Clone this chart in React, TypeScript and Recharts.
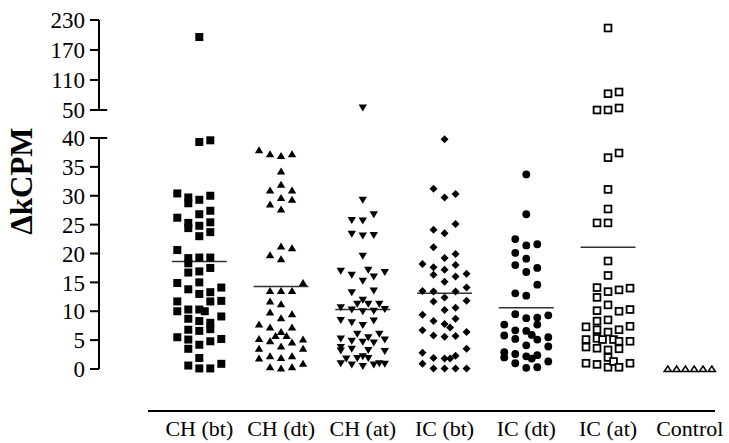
import { ScatterChart, Scatter, XAxis, YAxis, ReferenceLine } from "recharts";

const GROUPS = ["CH (bt)", "CH (dt)", "CH (at)", "IC (bt)", "IC (dt)", "IC (at)", "Control"];

// ΔkCPM per sample. *_LANE = which slot of the dot column the point sits in.
const CH_BT = [
  196,
  39.3, 39.6,
  30.4, 29.7, 28.7, 29.3, 30.0,
  26.2, 25.3, 24.4, 26.8, 24.8, 23.0, 27.4, 25.4, 23.7,
  20.6, 19.2, 18.3, 19.3, 19.3,
  16.7, 16.9, 17.5,
  14.9, 13.8, 15.0, 13.0, 13.3, 14.1,
  11.7, 10.0, 10.3, 8.7, 10.3, 10.0, 8.3, 11.7, 8.0, 6.9, 11.8, 9.1,
  5.5, 6.8, 5.1, 3.5, 6.6, 4.2, 4.8, 5.2,
  1.9, 0.6, 0.1, 0.1, 0.9,
];
const CH_BT_LANE = [
  0,
  0, 1,
  -2, -1, -1, 0, 1,
  -2, -1, -1, 0, 0, 0, 1, 1, 1,
  -2, -1, -1, 0, 1,
  -1, 0, 1,
  -2, -1, 0, 0, 1, 2,
  -2, -2, -1, -1, 0, 0.5, 0, 1, 1, 1, 2, 2,
  -2, -1, -1, -1, 0, 0, 1, 2,
  0, -1, 0, 1, 2,
];

const CH_DT = [
  37.9, 37.2, 36.9, 37.2,
  34.2,
  30.9, 31.9, 30.9,
  28.5, 29.6, 29.3, 27.6,
  21.2, 20.9, 19.7, 19.0,
  14.9, 13.5, 13.5, 13.5,
  11.7, 11.2,
  9.8, 8.8, 9.5,
  7.7, 7.2, 7.2, 6.4,
  5.2, 4.8, 5.7, 5.7, 4.6, 5.1,
  3.9, 3.5, 3.5,
  1.8, 2.2, 1.9, 2.2, 0.9,
  0.3, 0.1, 0.3,
];
const CH_DT_LANE = [
  -2, -1, 0, 1,
  0,
  -1, 0, 1,
  -1, 0, 1, 0,
  0, 1, -1, 0,
  2, -1, 0, 1,
  -1, 0,
  -1, 0, 1,
  -2, -1, 1, 0,
  -2, -1, -0.5, 0.5, 1, 2,
  0, -2, 2,
  -2, -1, 0, 1, 2,
  -1, 0, 1,
];

const CH_AT = [
  55,
  29.3, 26.8, 25.8, 25.7, 23.4, 23.1, 23.2,
  19.6,
  17.0, 16.3, 17.2, 15.3, 16.0, 16.8,
  13.3, 13.6,
  12.0, 11.3, 11.3, 10.7, 10.3, 10.0, 10.1, 11.3, 10.4,
  8.5, 8.1, 7.6, 8.4,
  6.1, 5.5, 6.1, 5.3, 4.9, 4.7, 4.6, 5.1,
  3.8, 3.2, 3.5, 3.3, 3.1,
  2.2, 1.8, 1.9, 1.9,
  1.0, 0.8, 0.5, 0.8, 1.0, 0.9,
];
const CH_AT_LANE = [
  0,
  0, 1, -1, 0, -1, 0, 1,
  0,
  -2, -1, 0.5, 0, 1, 2,
  -1, 1,
  0, -0.5, 0.5, -2, -1, 0, 1, 1.5, 2,
  -2, -1, 0, 1,
  -0.5, 0.5, 1.5, -2, -1, 0, 1, 2,
  -2, -2, -1, 0.5, 2,
  0, -1.5, -0.5, 0.5,
  -2, -1, 0, 1, 1.5, 2,
];

const IC_BT = [
  39.8,
  31.2, 29.7, 30.3,
  24.1, 23.5, 25.1,
  21.1, 19.2, 19.9,
  18.2, 17.6, 16.3, 17.2, 18.0, 16.0, 16.5,
  15.1, 13.5, 13.4, 13.4, 14.1,
  11.7, 12.4, 11.8,
  10.2, 10.6,
  9.4, 8.3, 7.8, 7.2, 8.7,
  6.7, 5.8, 5.6, 5.7, 6.4,
  3.5, 2.8, 1.9, 1.8, 1.8, 2.3,
  0.9, 0.1, 0.1, 0.1, 0.1,
];
const IC_BT_LANE = [
  0,
  -1, 0, 1,
  -1, 0, 1,
  -1, 0, 1,
  -2, -1, -1, 0, 1, 1, 2,
  0, -2, -1, 1, 2,
  -1, 0, 2,
  0, 1,
  -2, -1, 0, 0.5, 1,
  -2, -1, 0, 1, 2,
  2, -2, -1, 0, 0.5, 1,
  -2, -1, 0, 1, 2,
];

const IC_DT = [
  33.7, 26.8,
  22.5, 21.4, 21.6,
  20.1, 19.1, 18.0, 16.8, 17.5,
  14.6, 13.1, 12.7,
  9.5, 8.8, 8.9, 9.3,
  7.7, 7.7, 6.7, 6.6, 5.9, 5.8, 5.2, 5.1, 5.5,
  4.1, 3.9,
  2.9, 2.0, 2.6, 1.0, 2.2, 1.8, 2.4, 1.3,
  0.2, 0.3,
];
const IC_DT_LANE = [
  0, 0,
  -1, 0, 1,
  -1, 0, -1, 0, 1,
  1, -1, 0,
  -1, 0, 1, 2,
  1, -2, -1, 0, 0.5, -2, -1, 1, 2,
  0, 2,
  -2, -2, -1, -1, 0, 0.5, 1, 2,
  0, 1,
];

const IC_AT = [
  214, 86, 82.6, 50, 50, 54,
  37.4, 36.6,
  31.1, 27.7, 25.3, 25.3,
  18.7, 16.2,
  14.1, 12.4, 13.4, 13.7, 14.0,
  10.1, 11.1, 10.0, 10.3,
  7.3, 8.3, 6.8, 8.5, 6.4, 6.8, 7.4,
  5.1, 3.8, 5.3, 3.6, 5.1, 5.1, 3.3, 3.5, 4.8, 4.8,
  1.0, 0.8, 2.0, 0.3, 1.3, 0.3, 1.0,
];
const IC_AT_LANE = [
  0, 1, 0, -1, 0, 1,
  1, 0,
  0, 0, -1, 0,
  0, 0,
  -1, -1, 0, 1, 2,
  -1, 0, 1, 2,
  -2, -1, -1, 0, 0, 1, 2,
  -2, -2, -1, -1, -0.5, 0.5, 0, 1, 1, 2,
  -2, -1, 0, 0, 0.5, 1, 2,
];

const CONTROL = [0, 0, 0, 0, 0, 0];
const CONTROL_LANE = [-2, -1.2, -0.4, 0.4, 1.2, 2];

// group means (horizontal bars)
const MEANS = [18.6, 14.3, 10.3, 13.1, 10.6, 21.1, null];

const LOW_TICKS = [0, 5, 10, 15, 20, 25, 30, 35, 40];
const HIGH_TICKS = [50, 110, 170, 230];
const BREAK = 45;

const LANE = 0.1346;
const MEAN_HALF = 0.336;
const X_DOMAIN: [number, number] = [-1.227, 6.48];
const FONT = '"Liberation Serif", "Times New Roman", serif';

type Kind = "square" | "up" | "down" | "diamond" | "circle" | "open" | "openUp";

const SERIES: { values: number[]; lanes: number[]; kind: Kind }[] = [
  { values: CH_BT, lanes: CH_BT_LANE, kind: "square" },
  { values: CH_DT, lanes: CH_DT_LANE, kind: "up" },
  { values: CH_AT, lanes: CH_AT_LANE, kind: "down" },
  { values: IC_BT, lanes: IC_BT_LANE, kind: "diamond" },
  { values: IC_DT, lanes: IC_DT_LANE, kind: "circle" },
  { values: IC_AT, lanes: IC_AT_LANE, kind: "open" },
  { values: CONTROL, lanes: CONTROL_LANE, kind: "openUp" },
];

function points(g: number, values: number[], lanes: number[], high: boolean) {
  return values
    .map((v, k) => ({ x: g + lanes[k] * LANE, y: v }))
    .filter((p) => (high ? p.y > BREAK : p.y <= BREAK));
}

function Marker({ cx, cy, kind }: { cx: number; cy: number; kind: Kind }) {
  switch (kind) {
    case "square":
      return <rect x={cx - 4} y={cy - 4} width={8} height={8} fill="#000" />;
    case "up":
      return <polygon points={`${cx},${cy - 4} ${cx + 4.2},${cy + 3} ${cx - 4.2},${cy + 3}`} fill="#000" />;
    case "down":
      return <polygon points={`${cx - 4.2},${cy - 3} ${cx + 4.2},${cy - 3} ${cx},${cy + 4}`} fill="#000" />;
    case "diamond":
      return <polygon points={`${cx},${cy - 4} ${cx + 4},${cy} ${cx},${cy + 4} ${cx - 4},${cy}`} fill="#000" />;
    case "circle":
      return <circle cx={cx} cy={cy} r={3.9} fill="#000" />;
    case "open":
      return <rect x={cx - 3.4} y={cy - 3.4} width={6.8} height={6.8} fill="#fff" stroke="#000" strokeWidth={1.8} />;
    default:
      return (
        <polygon
          points={`${cx},${cy - 3} ${cx + 3.6},${cy + 2.5} ${cx - 3.6},${cy + 2.5}`}
          fill="#fff"
          stroke="#000"
          strokeWidth={1.5}
        />
      );
  }
}

const tickStyle = { fill: "#000", fontSize: 23, fontFamily: FONT };
const catTickStyle = { fill: "#000", fontSize: 22, fontFamily: FONT };
const axisStroke = { stroke: "#000", strokeWidth: 2 };

function Panel({ high }: { high: boolean }) {
  const domain: [number, number] = high ? [50, 230] : [0, 40];
  const cap = high ? 50 : 40;
  return (
    <ScatterChart
      width={729}
      height={high ? 130 : 392}
      margin={high ? { top: 20, right: 0, bottom: 20, left: 0 } : { top: 138, right: 0, bottom: 23, left: 0 }}
    >
      <XAxis type="number" dataKey="x" domain={X_DOMAIN} hide />
      <YAxis
        type="number"
        dataKey="y"
        width={99}
        domain={domain}
        ticks={high ? HIGH_TICKS : LOW_TICKS}
        interval={0}
        tick={tickStyle}
        tickSize={9}
        tickMargin={5}
        axisLine={axisStroke}
        tickLine={axisStroke}
      />
      <ReferenceLine
        segment={[
          { x: X_DOMAIN[0], y: cap },
          { x: X_DOMAIN[0] + 0.1, y: cap },
        ]}
        stroke="#000"
        strokeWidth={2}
      />
      {!high &&
        MEANS.map((m, g) =>
          m == null ? null : (
            <ReferenceLine
              key={g}
              segment={[
                { x: g - MEAN_HALF, y: m },
                { x: g + MEAN_HALF, y: m },
              ]}
              stroke="#333"
              strokeWidth={1.5}
            />
          )
        )}
      {SERIES.map((s, g) => (
        <Scatter
          key={GROUPS[g]}
          name={GROUPS[g]}
          data={points(g, s.values, s.lanes, high)}
          isAnimationActive={false}
          shape={(p: any) => <Marker cx={p.cx} cy={p.cy} kind={s.kind} />}
        />
      ))}
    </ScatterChart>
  );
}

// one anchor per group so the category axis has a domain to work with
const GROUP_ANCHORS = GROUPS.map((name, i) => ({ x: i, y: 0, name }));

export default function App() {
  return (
    <div
      style={{
        position: "absolute",
        left: 0,
        top: 0,
        width: 729,
        height: 443,
        background: "#fff",
        fontFamily: FONT,
      }}
    >
      <div style={{ position: "absolute", left: 0, top: 0 }}>
        <Panel high={true} />
      </div>
      <div style={{ position: "absolute", left: 0, top: 0 }}>
        <Panel high={false} />
      </div>
      <div style={{ position: "absolute", left: 0, top: 380 }}>
        <ScatterChart width={729} height={63} margin={{ top: 0, right: 14, bottom: 0, left: 148 }}>
          <XAxis
            type="number"
            dataKey="x"
            domain={[-0.6275, 6.308]}
            ticks={[0, 1, 2, 3, 4, 5, 6]}
            interval={0}
            tickFormatter={(i: number) => GROUPS[i] ?? ""}
            tick={catTickStyle}
            tickLine={false}
            tickSize={6}
            tickMargin={3}
            height={32}
            axisLine={axisStroke}
          />
          <YAxis type="number" dataKey="y" domain={[0, 1]} hide />
          <Scatter data={GROUP_ANCHORS} isAnimationActive={false} shape={() => <g />} />
        </ScatterChart>
      </div>
      <svg width={729} height={443} style={{ position: "absolute", left: 0, top: 0, pointerEvents: "none" }}>
        <text
          transform="translate(32,181) rotate(-90)"
          textAnchor="middle"
          fontFamily={FONT}
          fontWeight="bold"
          fontSize={31}
          fill="#000"
        >
          ΔkCPM
        </text>
      </svg>
    </div>
  );
}
